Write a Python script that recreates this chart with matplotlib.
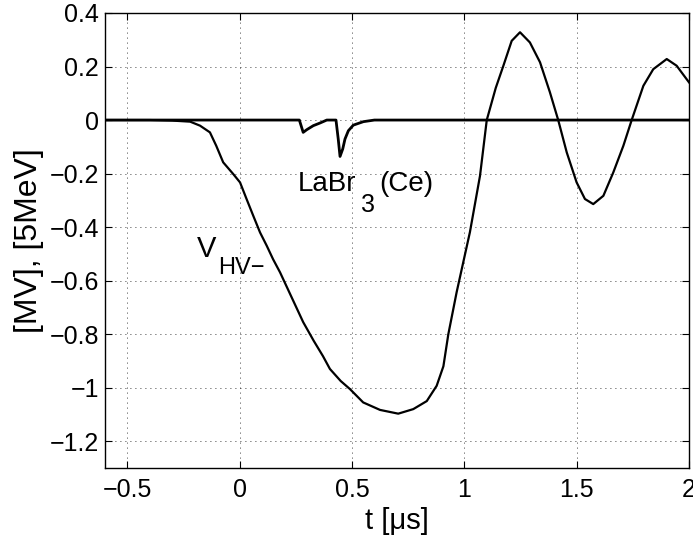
import matplotlib
matplotlib.use("Agg")
import matplotlib.pyplot as plt

# --- traces ---
t_hv = [-0.6, -0.4, -0.3, -0.22, -0.176, -0.132, -0.104, -0.073, -0.028, 0.002,
        0.031, 0.061, 0.091, 0.121, 0.149, 0.18, 0.232, 0.283, 0.33, 0.371,
        0.402, 0.45, 0.491, 0.55, 0.625, 0.706, 0.773, 0.833, 0.877, 0.907,
        0.929, 0.966, 1.025, 1.07, 1.10, 1.14, 1.174, 1.211, 1.248, 1.292,
        1.337, 1.381, 1.418, 1.456, 1.50, 1.537, 1.574, 1.619, 1.663, 1.708,
        1.745, 1.797, 1.841, 1.901, 1.945, 2.0]
v_hv = [0.0, 0.0, -0.002, -0.006, -0.021, -0.046, -0.096, -0.158, -0.202, -0.233,
        -0.295, -0.358, -0.42, -0.47, -0.52, -0.569, -0.663, -0.755, -0.825, -0.882,
        -0.93, -0.975, -1.005, -1.055, -1.083, -1.097, -1.08, -1.05, -0.993, -0.92,
        -0.80, -0.643, -0.419, -0.208, 0.0, 0.12, 0.203, 0.296, 0.328, 0.29,
        0.216, 0.104, 0.0, -0.121, -0.233, -0.295, -0.314, -0.283, -0.196, -0.096,
        0.0, 0.128, 0.19, 0.228, 0.203, 0.141]

t_labr = [-0.6, 0.266, 0.283, 0.299, 0.328, 0.358, 0.388, 0.429, 0.439, 0.447,
          0.459, 0.469, 0.484, 0.506, 0.551, 0.6, 2.0]
v_labr = [0.0, 0.0, -0.046, -0.036, -0.021, -0.011, 0.0, 0.0, -0.071, -0.136,
          -0.108, -0.071, -0.04, -0.019, -0.006, 0.0, 0.0]

x_ticks = [-0.5, 0, 0.5, 1, 1.5, 2]
x_ticklabels = ['\u22120.5', '0', '0.5', '1', '1.5', '2']
y_ticks = [-1.2, -1.0, -0.8, -0.6, -0.4, -0.2, 0, 0.2, 0.4]
y_ticklabels = ['\u22121.2', '\u22121', '\u22120.8', '\u22120.6', '\u22120.4',
                '\u22120.2', '0', '0.2', '0.4']

plt.rcParams['font.family'] = ['Liberation Sans', 'DejaVu Sans']

fig = plt.figure(figsize=(6.93, 5.37), dpi=100)
ax = fig.add_axes([0.1512, 0.1285, 0.843, 0.8473])

ax.plot(t_labr, v_labr, color='black', linewidth=2.0)
ax.plot(t_hv, v_hv, color='black', linewidth=1.6)

ax.set_xlim(-0.6, 2.0)
ax.set_ylim(-1.3, 0.4)
ax.set_xticks(x_ticks)
ax.set_xticklabels(x_ticklabels, fontsize=18)
ax.set_yticks(y_ticks)
ax.set_yticklabels(y_ticklabels, fontsize=18)
ax.tick_params(direction='in', length=5, width=0.8, top=True, right=True)
ax.tick_params(axis='x', pad=7)
ax.tick_params(axis='y', pad=4)
ax.grid(True, color='black', linestyle=(0, (1, 5)), linewidth=0.6)
for sp in ax.spines.values():
    sp.set_linewidth(1.0)

ax.set_xlabel('t [\u03bcs]', fontsize=21, labelpad=4)
ax.set_ylabel('[MV], [5MeV]', fontsize=23, labelpad=4)

# curve labels
ax.text(0.26, -0.264, 'LaBr', fontsize=20, ha='left', va='baseline')
ax.text(0.542, -0.345, '3', fontsize=18, ha='left', va='baseline')
ax.text(0.622, -0.264, '(Ce)', fontsize=20, ha='left', va='baseline')
ax.text(-0.19, -0.513, 'V', fontsize=21, ha='left', va='baseline')
ax.text(-0.095, -0.577, 'HV\u2212', fontsize=17, ha='left', va='baseline')

fig.savefig('out.png', dpi=100)
